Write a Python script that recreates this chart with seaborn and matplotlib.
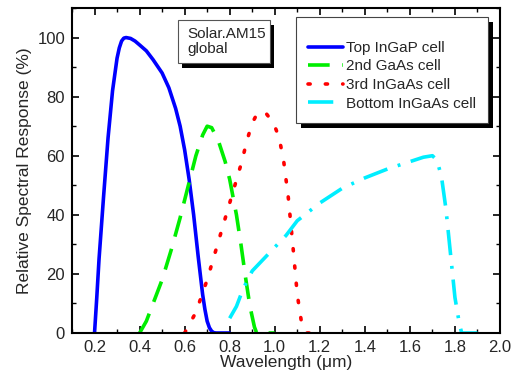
import matplotlib
matplotlib.use("Agg")
import matplotlib.pyplot as plt
import seaborn as sns
import pandas as pd
from matplotlib.patches import Rectangle
from matplotlib.ticker import MultipleLocator

# ---- data ----
top_x = [0.20, 0.21, 0.22, 0.24, 0.26, 0.28, 0.30, 0.31, 0.32, 0.33, 0.34, 0.36, 0.38, 0.40, 0.43, 0.46, 0.50, 0.53, 0.56, 0.58, 0.60, 0.62, 0.64, 0.66, 0.68, 0.69, 0.70, 0.71, 0.72, 0.73, 0.74, 0.80]
top_y = [0, 12, 25, 46, 66, 82, 93, 96.5, 98.8, 99.8, 100, 99.7, 98.8, 97.5, 95.5, 92.5, 88, 83, 76, 70, 62, 52, 40, 26, 13, 8, 4, 1.8, 0.6, 0.1, 0, 0]

gaas_x = [0.40, 0.43, 0.46, 0.50, 0.54, 0.58, 0.62, 0.65, 0.68, 0.70, 0.72, 0.75, 0.78, 0.80, 0.83, 0.85, 0.87, 0.89, 0.91, 0.92, 1.00]
gaas_y = [0, 4, 10, 18, 28, 39, 51, 60, 67, 70, 69.5, 65, 58, 52, 40, 30, 19, 9, 2, 0, 0]

ingaas3_x = [0.60, 0.65, 0.70, 0.75, 0.80, 0.85, 0.88, 0.90, 0.92, 0.94, 0.96, 0.98, 1.00, 1.02, 1.04, 1.06, 1.08, 1.10, 1.12, 1.14, 1.18]
ingaas3_y = [0, 7, 18, 31, 44, 57, 66, 71, 74, 75, 74.5, 72.5, 70, 66, 58, 46, 30, 13, 3, 0, 0]

bottom_x = [0.80, 0.83, 0.86, 0.90, 0.95, 1.00, 1.05, 1.10, 1.20, 1.30, 1.40, 1.50, 1.60, 1.66, 1.70, 1.72, 1.74, 1.76, 1.78, 1.80, 1.82, 1.83, 1.90]
bottom_y = [5, 9, 15, 21, 25, 29, 33, 38, 44, 49, 52.5, 55.5, 58, 59.5, 60, 58.5, 53, 42, 27, 12, 3, 0, 0]

labels = ["Top InGaP cell", "2nd GaAs cell", "3rd InGaAs cell", "Bottom InGaAs cell"]
x_ticks = [0.2, 0.4, 0.6, 0.8, 1.0, 1.2, 1.4, 1.6, 1.8, 2.0]
y_ticks = [0, 20, 40, 60, 80, 100]

sns.set_theme(style="ticks")
plt.rcParams['font.family'] = ['Liberation Sans', 'DejaVu Sans']

fig = plt.figure(figsize=(5.18, 3.78), dpi=100)
ax = fig.add_axes([72/518, 1-333/378, 428/518, 325/378])

series = [
    (top_x, top_y, "#0000ff", dict(linestyle="-")),
    (gaas_x, gaas_y, "#00ee00", dict(dashes=(6, 3.5))),
    (ingaas3_x, ingaas3_y, "#ff0000", dict(dashes=(0.6, 4.2), dash_capstyle="round")),
    (bottom_x, bottom_y, "#00eeff", dict(dashes=(7, 3, 0.8, 3))),
]
for (xs, ys, c, st), lab in zip(series, labels):
    df = pd.DataFrame({"x": xs, "y": ys})
    sns.lineplot(data=df, x="x", y="y", ax=ax, color=c, lw=2.6, label=lab,
                 sort=False, **st)

ax.set_xlim(0.1, 2.0)
ax.set_ylim(0, 110)
ax.set_xticks(x_ticks)
ax.set_xticklabels([f"{v:.1f}" for v in x_ticks])
ax.set_yticks(y_ticks)
ax.xaxis.set_minor_locator(MultipleLocator(0.1))
ax.yaxis.set_minor_locator(MultipleLocator(10))
ax.tick_params(which="both", direction="in", top=True, right=True, labelsize=12, color="black")
ax.tick_params(which="major", length=5, width=1.2, pad=5)
ax.tick_params(which="minor", length=3, width=1.0)
for s in ax.spines.values():
    s.set_linewidth(1.5)
    s.set_color("black")
ax.set_xlabel("Wavelength (\u03bcm)", fontsize=12.5, labelpad=0)
ax.set_ylabel("Relative Spectral Response (%)", fontsize=12.5, labelpad=4)

leg = ax.legend(loc="upper left", bbox_to_anchor=(0.523, 0.972), fontsize=11,
                frameon=True, fancybox=False, edgecolor="#444444", framealpha=1,
                handlelength=2.3, borderpad=0.8, labelspacing=0.3, handletextpad=0.2,
                title=" ", title_fontsize=5, borderaxespad=0)
leg.get_frame().set_linewidth(0.8)
leg.set_zorder(10)

fig.canvas.draw()
bb = leg.get_window_extent()
ax.add_patch(Rectangle((bb.x0 + 5, bb.y0 - 5), bb.width, bb.height, transform=None,
                       facecolor="black", edgecolor="none", zorder=9))

# Solar AM15 box with shadow
ax.add_patch(Rectangle((0.258, 0.816), 0.215, 0.132, transform=ax.transAxes,
                       facecolor="black", edgecolor="none", zorder=5))
ax.add_patch(Rectangle((0.248, 0.831), 0.215, 0.132, transform=ax.transAxes,
                       facecolor="white", edgecolor="#555555", lw=0.8, zorder=6))
ax.text(0.27, 0.897, "Solar.AM15\nglobal", transform=ax.transAxes, fontsize=11,
        va="center", ha="left", zorder=7, linespacing=1.15)

fig.savefig("out.png", dpi=100)
